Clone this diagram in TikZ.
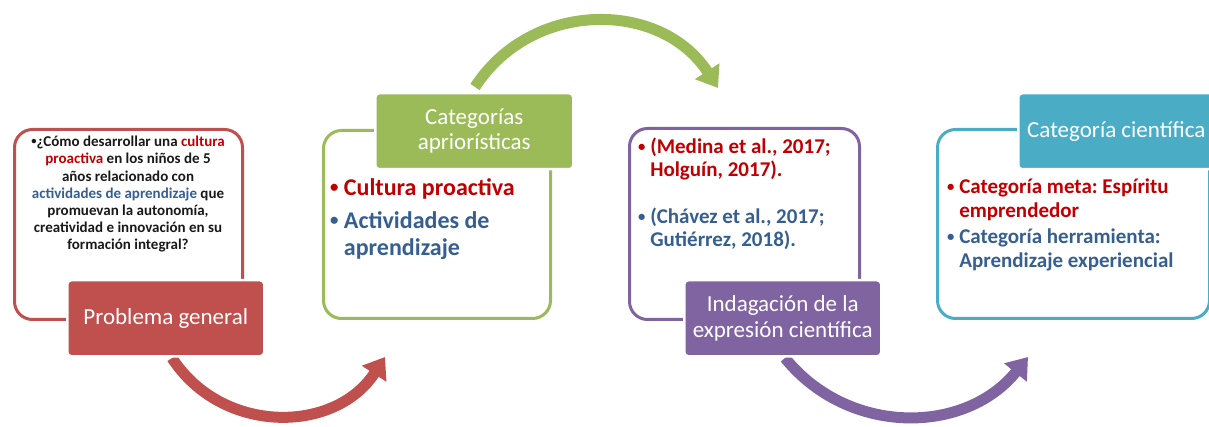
\documentclass[tikz,border=0pt]{standalone}
\usepackage{fontspec}
\setmainfont{Carlito}
\usetikzlibrary{arrows.meta}
\definecolor{cred}{RGB}{192,80,77}
\definecolor{cgreen}{RGB}{155,187,89}
\definecolor{cpurple}{RGB}{128,100,162}
\definecolor{cblue}{RGB}{75,172,198}
\definecolor{tred}{RGB}{192,0,0}
\definecolor{tblue}{RGB}{54,95,145}
\definecolor{tdark}{RGB}{25,25,25}
\tikzset{
  outbox/.style={draw=#1, line width=3pt, rounded corners=18pt, anchor=north west, inner sep=0pt, fill=white},
  lab/.style={fill=#1, draw=white, line width=2.5pt, rounded corners=4pt, anchor=north west, inner sep=0pt, text=white, font=\fontsize{23}{26}\selectfont, align=center},
  cyc/.style={draw=#1, line width=11pt, -{Triangle[width=28pt,length=20pt]}},
  txt/.style={inner sep=0pt},
}
\newcommand{\bul}{\raisebox{0.12em}{\scalebox{0.7}{\textbullet}}}
\newcommand{\hb}{\hphantom{\bul\ }}
\begin{document}
\frenchspacing
\begin{tikzpicture}[x=1pt,y=-1pt]
\useasboundingbox (0,0) rectangle (1209,427);
\clip (0,0) rectangle (1209,427);
% outline boxes
\node[outbox=cred, minimum width=228pt, minimum height=190pt] (b1) at (13,128) {};
\node[outbox=cgreen, minimum width=227pt, minimum height=188pt] (b2) at (322,129) {};
\node[outbox=cpurple, minimum width=230pt, minimum height=191pt] (b3) at (628,127) {};
\node[outbox=cblue, minimum width=272pt, minimum height=189pt] (b4) at (936,128) {};
% arrows
\coordinate (r0) at (172,358); \coordinate (r1) at (385,357);
\coordinate (g0) at (475,87); \coordinate (g1) at (718,88);
\coordinate (p0) at (785,358); \coordinate (p1) at (1028,357);
\draw[cyc=cred] (r0) .. controls (222,435) and (335,434) .. (r1);
\draw[cyc=cgreen] (g0) .. controls (532,-1) and (661,0) .. (g1);
\draw[cyc=cpurple] (p0) .. controls (848,436) and (965,435) .. (p1);
% labels
\node[lab=cred, minimum width=197pt, minimum height=76pt] (l1) at (66,279) {Problema general};
\node[lab=cgreen, minimum width=198pt, minimum height=76pt] (l2) at (374,92) {Categorías\\[-1pt]apriorísticas};
\node[lab=cpurple, minimum width=197pt, minimum height=76pt] (l3) at (683,279) {Indagación de la\\expresión científica};
\node[lab=cblue, minimum width=196pt, minimum height=76pt] (l4) at (1017,92) {Categoría científica};
% texts
\node[txt, text=tdark, align=center, anchor=north, font=\bfseries\fontsize{15}{17.2}\selectfont] (t1) at (128,136) {%
\bul¿Cómo desarrollar una {\color{tred}cultura}\\
{\color{tred}proactiva} en los niños de 5\\
años relacionado con\\
{\color{tblue}actividades de aprendizaje} que\\
promuevan la autonomía,\\
creatividad e innovación en su\\
formación integral?};
\node[txt, align=left, anchor=north west, font=\bfseries\fontsize{24}{27}\selectfont] (t2) at (330,178) {%
{\color{tred}\bul\ Cultura proactiva}\\[6pt]
{\color{tblue}\bul\ Actividades de}\\
{\color{tblue}\hb aprendizaje}};
\node[txt, align=left, anchor=north west, font=\bfseries\fontsize{21}{22.5}\selectfont] (t3) at (638,138) {%
{\color{tred}\bul\ (Medina et al., 2017;}\\
{\color{tred}\hb Holguín, 2017).}\\[25pt]
{\color{tblue}\bul\ (Chávez et al., 2017;}\\
{\color{tblue}\hb Gutiérrez, 2018).}};
\node[txt, align=left, anchor=north west, font=\bfseries\fontsize{21}{23.3}\selectfont] (t4) at (947,179) {%
{\color{tred}\bul\ Categoría meta: Espíritu}\\
{\color{tred}\hb emprendedor}\\[3.4pt]
{\color{tblue}\bul\ Categoría herramienta:}\\
{\color{tblue}\hb Aprendizaje experiencial}};
\end{tikzpicture}
\end{document}
